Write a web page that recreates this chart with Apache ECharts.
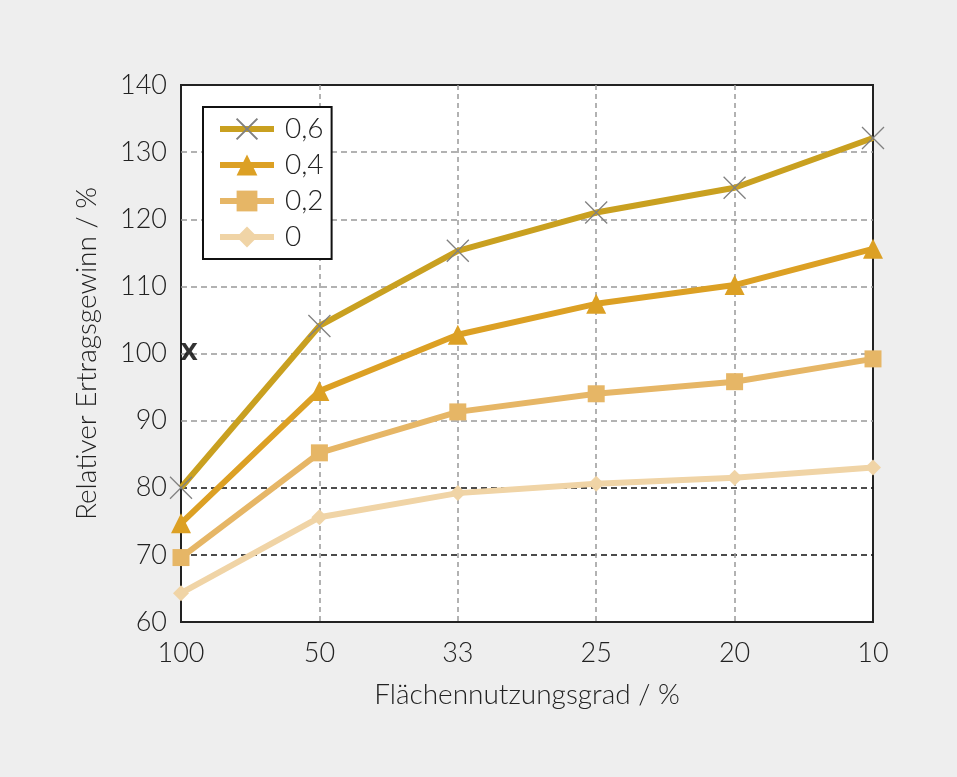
<!DOCTYPE html>
<html><head><meta charset="utf-8">
<script src="https://cdn.jsdelivr.net/npm/echarts@6/dist/echarts.min.js"></script>
<style>html,body{margin:0;padding:0;background:#eeeeee}#c{width:957px;height:777px}</style>
</head><body><div id="c"></div>
<script>
const categories = ['100','50','33','25','20','10'];
const s06 = [80, 104.1, 115.3, 121, 124.7, 132.1];
const s04 = [74.7, 94.4, 102.8, 107.4, 110.2, 115.6];
const s02 = [69.6, 85.2, 91.3, 94, 95.8, 99.2];
const s00 = [64.3, 75.6, 79.2, 80.6, 81.5, 83];
const seriesNames = ['0,6','0,4','0,2','0'];
const refPoint = [['100', 100]];
const yTicks = {min: 60, max: 140, interval: 10};

const FONT = 'Lato, "Open Sans", sans-serif';
const chart = echarts.init(document.getElementById('c'));
const lineStyleW = 6;
chart.setOption({
  backgroundColor: '#eeeeee',
  animation: false,
  grid: {left: 181, right: 84, top: 85, bottom: 155, show: true, backgroundColor: '#fff', borderColor: '#222', borderWidth: 2},
  legend: {
    data: seriesNames,
    orient: 'vertical', left: 203, top: 107,
    backgroundColor: '#fff', borderColor: '#111', borderWidth: 2,
    padding: [8, 8, 8, 14], itemGap: 8, itemWidth: 54, itemHeight: 26,
    lineStyle: {width: 6},
    textStyle: {fontFamily: FONT, fontWeight: 300, fontSize: 28, color: '#222', padding: [0, 0, 0, 6]}
  },
  xAxis: {
    type: 'category', data: categories, boundaryGap: false,
    name: 'Flächennutzungsgrad / %', nameLocation: 'middle', nameGap: 59,
    nameTextStyle: {fontFamily: FONT, fontWeight: 300, fontSize: 28, color: '#222'},
    axisLine: {show: false}, axisTick: {show: false},
    axisLabel: {fontFamily: FONT, fontWeight: 300, fontSize: 27, color: '#222', margin: 18},
    splitLine: {show: true, showMinLine: false, showMaxLine: false, lineStyle: {type: [5, 4], color: '#999', width: 1.5}}
  },
  yAxis: {
    type: 'value', min: yTicks.min, max: yTicks.max, interval: yTicks.interval,
    name: 'Relativer Ertragsgewinn / %', nameLocation: 'middle', nameGap: 80, nameRotate: 90,
    nameTextStyle: {fontFamily: FONT, fontWeight: 300, fontSize: 28, color: '#222'},
    axisLine: {show: false}, axisTick: {show: false},
    axisLabel: {fontFamily: FONT, fontWeight: 300, fontSize: 27, color: '#222', margin: 14},
    splitLine: {show: true, showMinLine: false, showMaxLine: false, lineStyle: {type: [6, 4], width: 1.5,
      color: ['#111','#111','#999','#999','#999','#999','#999']}}
  },
  series: [
    {name: '0,6', type: 'line', data: s06, symbol: 'path://M0,0L10,10M10,0L0,10', symbolSize: 22,
      lineStyle: {color: '#C9A020', width: lineStyleW}, itemStyle: {color: 'rgba(0,0,0,0)', borderColor: '#808080', borderWidth: 1.3}, z: 5},
    {name: '0,4', type: 'line', data: s04, symbol: 'triangle', symbolSize: 20,
      lineStyle: {color: '#DCA024', width: lineStyleW}, itemStyle: {color: '#DCA024'}, z: 4},
    {name: '0,2', type: 'line', data: s02, symbol: 'rect', symbolSize: 17,
      lineStyle: {color: '#E6B666', width: lineStyleW}, itemStyle: {color: '#E6B666'}, z: 3},
    {name: '0', type: 'line', data: s00, symbol: 'diamond', symbolSize: 16,
      lineStyle: {color: '#F0D4A6', width: lineStyleW}, itemStyle: {color: '#F0D4A6'}, z: 2},
    {name: 'ref', type: 'scatter', data: refPoint, symbolSize: 1, itemStyle: {color: 'rgba(0,0,0,0)'},
      label: {show: true, formatter: 'X', position: 'inside', offset: [8, 1], fontFamily: 'DejaVu Sans', fontWeight: 'bold', fontSize: 23, color: '#000'}, z: 6}
  ]
});
</script></body></html>
